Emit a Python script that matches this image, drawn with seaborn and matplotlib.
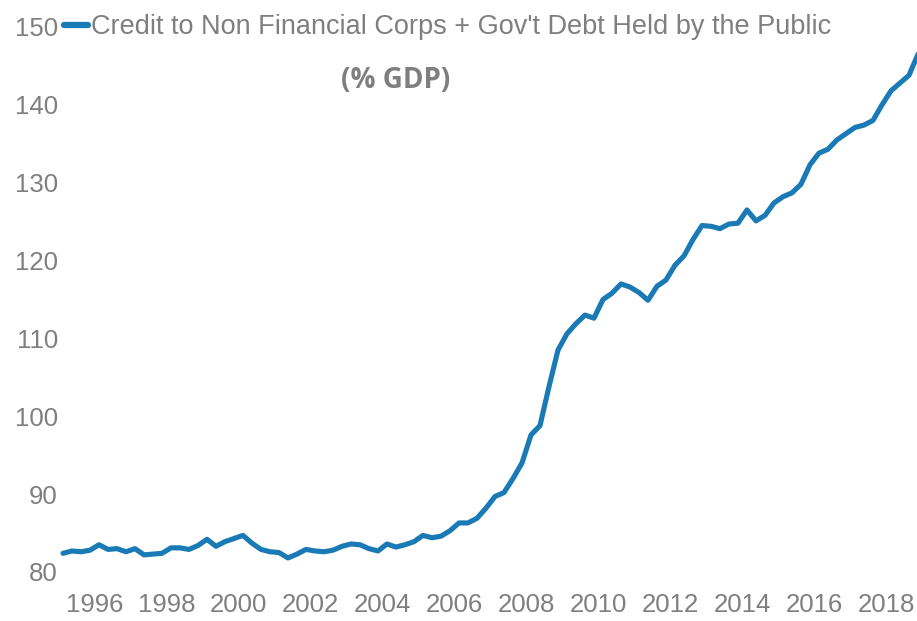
import matplotlib
matplotlib.use("Agg")
import matplotlib.pyplot as plt
import seaborn as sns
import pandas as pd

# Quarterly series, 1995Q1 - 2018Q4 (% of GDP)
quarters = pd.period_range("1995Q1", "2018Q4", freq="Q")
debt_pct_gdp = [
    82.4, 82.7, 82.6, 82.8, 83.5, 82.9, 83.0, 82.6,   # 1995-1996
    83.0, 82.2, 82.3, 82.4, 83.1, 83.1, 82.9, 83.4,   # 1997-1998
    84.2, 83.3, 83.9, 84.3, 84.7, 83.7, 82.9, 82.6,   # 1999-2000
    82.5, 81.8, 82.3, 82.9, 82.7, 82.6, 82.8, 83.3,   # 2001-2002
    83.6, 83.5, 83.0, 82.7, 83.6, 83.2, 83.5, 83.9,   # 2003-2004
    84.7, 84.4, 84.6, 85.3, 86.3, 86.3, 86.9, 88.2,   # 2005-2006
    89.7, 90.2, 92.0, 94.0, 97.6, 98.8, 103.8, 108.5, # 2007-2008
    110.6, 111.9, 113.0, 112.6, 115.0, 115.8, 117.0, 116.6,  # 2009-2010
    115.9, 114.9, 116.7, 117.5, 119.4, 120.6, 122.7, 124.5,  # 2011-2012
    124.4, 124.1, 124.7, 124.8, 126.5, 125.1, 125.8, 127.4,  # 2013-2014
    128.2, 128.7, 129.8, 132.3, 133.8, 134.3, 135.5, 136.3,  # 2015-2016
    137.1, 137.4, 138.0, 140.0, 141.8, 142.8, 143.8, 146.5,  # 2017-2018
]
series_label = "Credit to Non Financial Corps + Gov't Debt Held by the Public"
subtitle = "(% GDP)"
year_ticks = list(range(1996, 2019, 2))
value_ticks = list(range(80, 151, 10))

# mid-quarter positions on a decimal-year axis
x_years = [p.year + (p.quarter - 1) / 4 + 0.125 for p in quarters]
df = pd.DataFrame({"year": x_years, "value": debt_pct_gdp})

sns.set_theme(style="white")
plt.rcParams["font.family"] = ["Liberation Sans", "DejaVu Sans"]

W, H = 917, 621
fig = plt.figure(figsize=(W / 100, H / 100), dpi=100)
ax = fig.add_axes([60 / W, (H - 572) / H, 857 / W, 545 / H])

line_color = "#1a7ab5"
text_gray = "#7f7f7f"

sns.lineplot(data=df, x="year", y="value", ax=ax, color=line_color,
             linewidth=3.7, label=series_label, legend=False)

ax.set_xlim(1995.042, 2018.848)
ax.set_ylim(80, 150)
ax.set_xticks(year_ticks)
ax.set_xticklabels([str(y) for y in year_ticks])
ax.set_yticks(value_ticks)
ax.set_xlabel("")
ax.set_ylabel("")
ax.tick_params(axis="both", length=0, labelsize=18.5, labelcolor=text_gray)
ax.tick_params(axis="x", pad=15)
ax.tick_params(axis="y", pad=1.5)
for s in ax.spines.values():
    s.set_visible(False)
ax.grid(False)

leg = ax.legend(loc="center left", bbox_to_anchor=(64 / W, (H - 27) / H),
                bbox_transform=fig.transFigure, frameon=False,
                fontsize=19.5, handlelength=0.9, handletextpad=0.1,
                borderaxespad=0, borderpad=0)
for t in leg.get_texts():
    t.set_color(text_gray)
for h in leg.get_lines():
    h.set_linewidth(4.5)

fig.text(396 / W, (H - 80) / H, subtitle, ha="center", va="center",
         fontsize=20, fontweight="bold", color=text_gray,
         family=["Open Sans", "DejaVu Sans"])

fig.savefig("out.png", dpi=100)
